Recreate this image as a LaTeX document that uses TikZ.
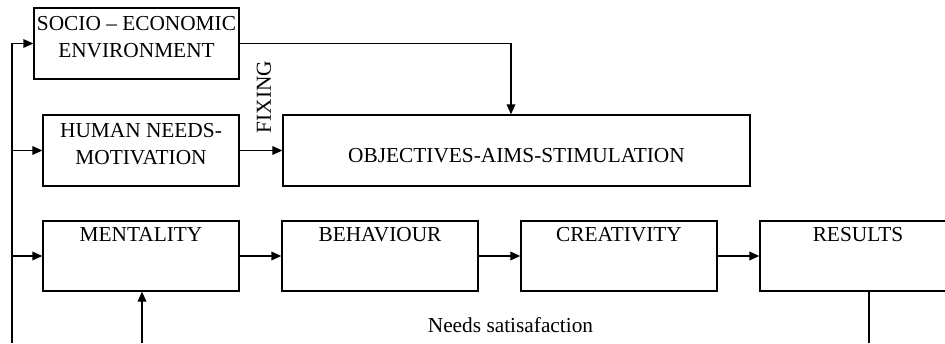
\documentclass[tikz,border=0pt]{standalone}
\usepackage{fontspec}
\setmainfont{Liberation Serif}
\usetikzlibrary{arrows.meta,calc}
\begin{document}
\begin{tikzpicture}[x=0.75pt,y=-0.75pt,
  every node/.style={font=\fontsize{16}{20}\selectfont},
  box/.style={draw, line width=1pt, inner sep=0pt},
  ttl/.style={anchor=north, inner sep=0pt, align=center},
  arr/.style={line width=1pt, -{Triangle[length=7.5pt,width=6.5pt]}},
  ln/.style={line width=1pt}]
\clip (0,0) rectangle (945,343);
% boxes
\node[box, minimum width=153.75pt, minimum height=53.25pt] (soc) at (136.5,43.5) {};
\node[box, minimum width=147pt, minimum height=53.25pt] (hum) at (141,150.5) {};
\node[box, minimum width=350.25pt, minimum height=53.25pt] (obj) at (516.5,150.5) {};
\node[box, minimum width=147pt, minimum height=52.5pt] (men) at (141,256) {};
\node[box, minimum width=147pt, minimum height=52.5pt] (beh) at (380,256) {};
\node[box, minimum width=147pt, minimum height=52.5pt] (cre) at (619,256) {};
\node[box, minimum width=147pt, minimum height=52.5pt] (res) at (858,256) {};
% texts
\node[ttl] (socT) at ([yshift=-6.75pt]soc.north) {SOCIO – ECONOMIC\\ENVIRONMENT};
\node[ttl] (humT) at ([yshift=-6.75pt]hum.north) {HUMAN NEEDS-\\MOTIVATION};
\node[ttl] (objT) at ([yshift=-25.5pt]obj.north) {OBJECTIVES-AIMS-STIMULATION};
\node[ttl] (menT) at ([yshift=-5.25pt]men.north) {MENTALITY};
\node[ttl] (behT) at ([yshift=-5.25pt]beh.north) {BEHAVIOUR};
\node[ttl] (creT) at ([yshift=-5.25pt]cre.north) {CREATIVITY};
\node[ttl] (resT) at ([yshift=-5.25pt]res.north) {RESULTS};
\node[rotate=90, inner sep=0pt] (fix) at (264,97) {FIXING};
\node[anchor=base, inner sep=0pt] (need) at (510.5,332) {Needs satisafaction};
% connectors
\coordinate (bl) at (12,343);
\coordinate (ml) at (142,343);
\coordinate (rl) at (869,343);
\draw[arr] (bl) |- (soc.west);
\draw[arr] (bl |- hum.west) -- (hum.west);
\draw[arr] (bl |- men.west) -- (men.west);
\draw[arr] (hum.east) -- (obj.west);
\draw[arr] (soc.east) -| ($(obj.north)+(-5.5,0)$);
\draw[arr] (men.east) -- (beh.west);
\draw[arr] (beh.east) -- (cre.west);
\draw[arr] (cre.east) -- (res.west);
\draw[arr] (ml) -- (ml |- men.south);
\draw[ln] (rl |- res.south) -- (rl);
\end{tikzpicture}
\end{document}
